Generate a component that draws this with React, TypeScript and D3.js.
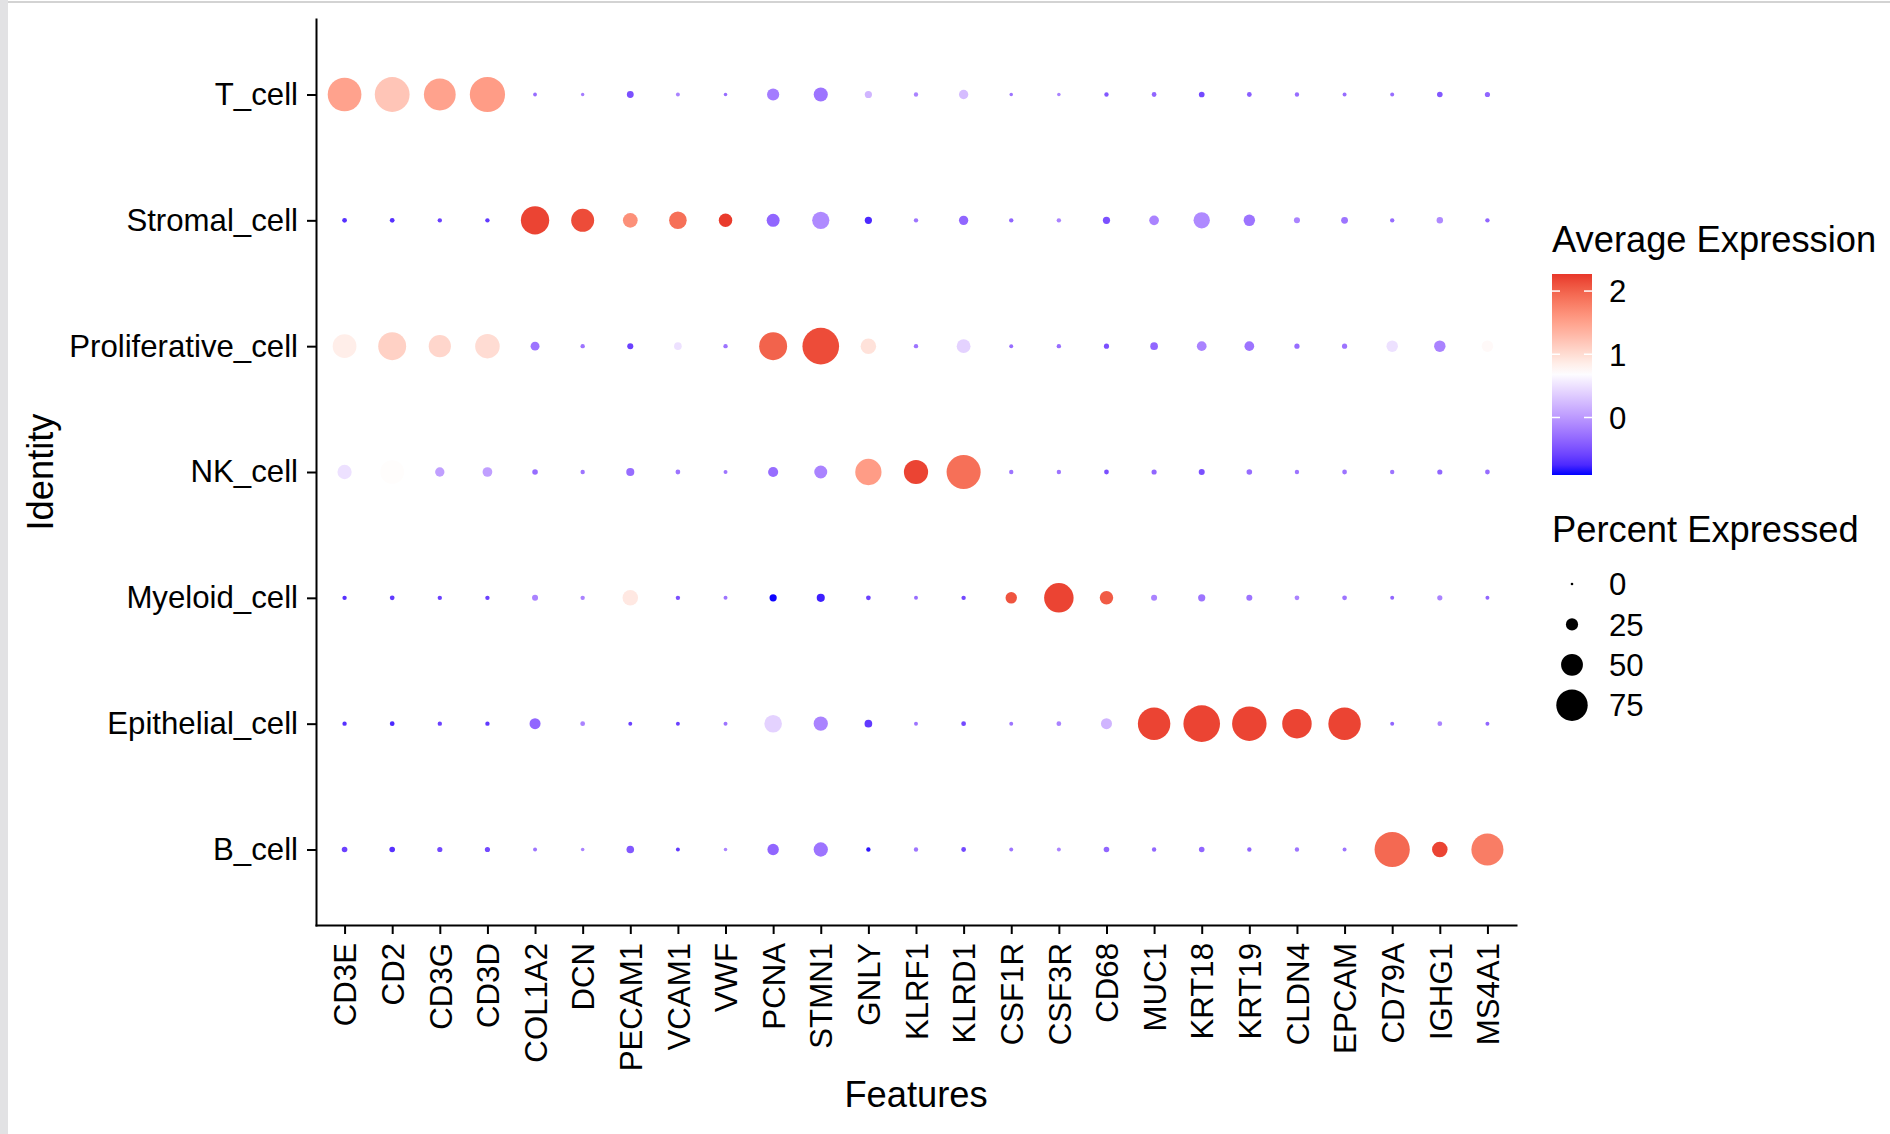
import React, { useEffect, useRef } from 'react';
import * as d3 from 'd3';

// genes on the x axis, in plot order
const features = [
  'CD3E', 'CD2', 'CD3G', 'CD3D', 'COL1A2', 'DCN', 'PECAM1', 'VCAM1', 'VWF',
  'PCNA', 'STMN1', 'GNLY', 'KLRF1', 'KLRD1', 'CSF1R', 'CSF3R', 'CD68', 'MUC1',
  'KRT18', 'KRT19', 'CLDN4', 'EPCAM', 'CD79A', 'IGHG1', 'MS4A1'
];

// cell identities, top to bottom
const identities = [
  'T_cell', 'Stromal_cell', 'Proliferative_cell', 'NK_cell',
  'Myeloid_cell', 'Epithelial_cell', 'B_cell'
];

// percent expressed per identity (same order as features)
const pctTcell = [81, 84, 76, 85, 3, 2, 11, 3.5, 2.4, 25, 30, 12, 4.6, 17.5, 2.4, 2.4, 4.6, 5.6, 8, 5.6, 4.6, 3.5, 3.5, 7.8, 6.7];
const pctStromal = [5.6, 5.6, 4.6, 4.6, 67, 53, 31.5, 39, 28.3, 27, 38, 12, 4.6, 17.5, 4.6, 4.6, 12, 18.6, 35.8, 23, 9, 11, 4.6, 10, 4.6];
const pctProlif = [55, 66, 51, 57, 16.4, 4.6, 9, 13, 4.6, 66, 88.6, 33.6, 4.6, 29.3, 3.5, 4.6, 6.7, 13.2, 18.6, 18.6, 6.7, 6.7, 23, 23, 23];
const pctNK = [30.4, 55, 17.5, 18.6, 7.8, 4.6, 14.3, 5.6, 3.5, 19.6, 27, 61.6, 56.3, 82, 4.6, 4.6, 5.6, 6.7, 8.9, 7.8, 4.6, 5.6, 4.6, 6.7, 5.6];
const pctMyeloid = [4.6, 5.6, 4.6, 4.6, 8.9, 4.6, 33.6, 4.6, 3.5, 12, 14.3, 5.6, 3.5, 4.6, 23, 70, 28.3, 8.9, 12, 8.9, 5.6, 5.6, 3.5, 6.7, 3.5];
const pctEpithelial = [4.6, 5.6, 4.6, 4.6, 22, 5.6, 3.5, 3.5, 3.5, 39, 30.4, 13.2, 3.5, 5.6, 3.5, 5.6, 22, 77.8, 88.6, 83, 70, 77.8, 3.5, 5.6, 3.5];
const pctBcell = [7.8, 7.8, 6.7, 6.7, 3.5, 2.4, 13, 3.5, 2.4, 23, 30.4, 4.6, 4.6, 5.6, 3.5, 3.5, 7.8, 4.6, 7.8, 4.6, 4.6, 3.5, 85, 33.6, 76.7];

// average (scaled) expression per identity
const avgTcell = [1.5, 1.2, 1.5, 1.55, -0.3, -0.2, -0.5, -0.15, -0.3, -0.2, -0.25, 0.2, -0.15, 0.25, -0.25, -0.15, -0.45, -0.35, -0.55, -0.4, -0.3, -0.3, -0.3, -0.45, -0.35];
const avgStromal = [-0.7, -0.7, -0.6, -0.65, 2.2, 2.15, 1.65, 1.9, 2.25, -0.35, -0.1, -0.75, -0.25, -0.35, -0.35, -0.15, -0.5, -0.15, -0.1, -0.25, -0.15, -0.25, -0.3, -0.1, -0.35];
const avgProlif = [0.85, 1.1, 1.05, 1.0, -0.25, -0.25, -0.6, 0.5, -0.25, 2.0, 2.15, 0.95, -0.25, 0.4, -0.3, -0.3, -0.5, -0.35, -0.15, -0.25, -0.3, -0.25, 0.5, -0.15, 0.75];
const avgNK = [0.5, 0.72, 0.05, 0.05, -0.3, -0.25, -0.3, -0.25, -0.25, -0.3, -0.15, 1.55, 2.2, 1.9, -0.25, -0.25, -0.5, -0.35, -0.5, -0.3, -0.25, -0.25, -0.25, -0.35, -0.3];
const avgMyeloid = [-0.7, -0.65, -0.6, -0.6, -0.15, -0.15, 0.9, -0.5, -0.25, -0.9, -0.8, -0.6, -0.3, -0.55, 2.1, 2.2, 2.05, -0.15, -0.25, -0.25, -0.15, -0.25, -0.35, -0.15, -0.35];
const avgEpithelial = [-0.7, -0.75, -0.6, -0.65, -0.35, -0.15, -0.6, -0.6, -0.25, 0.4, -0.15, -0.65, -0.25, -0.55, -0.25, -0.15, 0.2, 2.2, 2.2, 2.2, 2.2, 2.2, -0.35, -0.15, -0.35];
const avgBcell = [-0.6, -0.7, -0.55, -0.55, -0.25, -0.15, -0.45, -0.65, -0.15, -0.35, -0.25, -0.85, -0.25, -0.55, -0.25, -0.15, -0.35, -0.35, -0.35, -0.35, -0.25, -0.25, 1.95, 2.2, 1.8];

const pctExpressed = [pctTcell, pctStromal, pctProlif, pctNK, pctMyeloid, pctEpithelial, pctBcell];
const avgExpression = [avgTcell, avgStromal, avgProlif, avgNK, avgMyeloid, avgEpithelial, avgBcell];

// legend ranges / breaks
const avgRange = [-0.91, 2.27];
const colorTicks = [0, 1, 2];
const sizeBreaks = [0, 25, 50, 75];

const FONT = "'Liberation Sans', Arial, Helvetica, sans-serif";
const TEXT_SIZE = 31.2;
const TITLE_SIZE = 36.3;

const DotPlot: React.FC = () => {
  const svgRef = useRef<SVGSVGElement>(null);

  useEffect(() => {
    if (!svgRef.current) return;

    const width = 1890;
    const height = 1134;
    const plot = { left: 316, right: 1516, top: 19, bottom: 925 };

    const svg = d3.select(svgRef.current);
    svg.selectAll('*').remove();
    svg.attr('width', width).attr('height', height);

    svg.append('rect')
      .attr('width', width)
      .attr('height', height)
      .attr('fill', '#ffffff');

    // screenshot window edges
    svg.append('rect')
      .attr('x', 0).attr('y', 0)
      .attr('width', 8).attr('height', height)
      .attr('fill', '#e2e2e4');
    svg.append('rect')
      .attr('x', 8).attr('y', 1)
      .attr('width', width - 8).attr('height', 2)
      .attr('fill', '#d3d3d3');

    // scales
    const x = d3.scalePoint<string>()
      .domain(features)
      .range([plot.left, plot.right])
      .padding(0.6);

    const y = d3.scalePoint<string>()
      .domain(identities)
      .range([plot.top, plot.bottom])
      .padding(0.6);

    const mid = 0.7;
    const color = d3.scaleLinear<string>()
      .domain([avgRange[0], mid, avgRange[1]])
      .range(['#0000ff', '#ffffff', '#e8372a'])
      .interpolate(d3.interpolateLab)
      .clamp(true);

    const radius = d3.scaleLinear()
      .domain([0, 100])
      .range([1.3, 20.5]);

    // dots
    const cells = identities.flatMap((id, i) =>
      features.map((f, j) => ({
        id,
        f,
        pct: pctExpressed[i][j],
        avg: avgExpression[i][j]
      }))
    );

    svg.append('g')
      .selectAll('circle')
      .data(cells)
      .enter()
      .append('circle')
      .attr('cx', d => x(d.f) as number)
      .attr('cy', d => y(d.id) as number)
      .attr('r', d => radius(d.pct))
      .attr('fill', d => color(d.avg));

    // y axis
    const yAxis = svg.append('g')
      .attr('transform', `translate(${plot.left},0)`)
      .call(d3.axisLeft(y).tickSize(9).tickSizeOuter(0).tickPadding(9));

    // x axis
    const xAxis = svg.append('g')
      .attr('transform', `translate(0,${plot.bottom})`)
      .call(d3.axisBottom(x).tickSize(9).tickSizeOuter(0));

    [xAxis, yAxis].forEach(ax => {
      ax.select('.domain')
        .attr('stroke', '#000')
        .attr('stroke-width', 2)
        .attr('stroke-linecap', 'square');
      ax.selectAll('.tick line')
        .attr('stroke', '#000')
        .attr('stroke-width', 2);
      ax.selectAll('.tick text')
        .attr('font-family', FONT)
        .attr('font-size', TEXT_SIZE)
        .attr('fill', '#000');
    });

    xAxis.selectAll('.tick text')
      .attr('transform', 'rotate(-90)')
      .attr('text-anchor', 'end')
      .attr('x', -18)
      .attr('y', 0)
      .attr('dy', '0.36em');

    // axis titles
    svg.append('text')
      .attr('x', (plot.left + plot.right) / 2)
      .attr('y', 1107)
      .attr('text-anchor', 'middle')
      .attr('font-family', FONT)
      .attr('font-size', TITLE_SIZE)
      .text('Features');

    svg.append('text')
      .attr('transform', `translate(53,${(plot.top + plot.bottom) / 2}) rotate(-90)`)
      .attr('text-anchor', 'middle')
      .attr('font-family', FONT)
      .attr('font-size', TITLE_SIZE)
      .text('Identity');

    // colour legend
    const lgX = 1552;
    const barW = 40;
    const barTop = 274;
    const barBottom = 475;

    svg.append('text')
      .attr('x', lgX)
      .attr('y', 252)
      .attr('font-family', FONT)
      .attr('font-size', TITLE_SIZE)
      .text('Average Expression');

    const defs = svg.append('defs');
    const gradient = defs.append('linearGradient')
      .attr('id', 'avg-gradient')
      .attr('x1', '0%').attr('y1', '100%')
      .attr('x2', '0%').attr('y2', '0%');

    gradient.selectAll('stop')
      .data(d3.range(0, 1.0001, 0.05))
      .enter()
      .append('stop')
      .attr('offset', d => `${d * 100}%`)
      .attr('stop-color', d => color(avgRange[0] + d * (avgRange[1] - avgRange[0])));

    svg.append('rect')
      .attr('x', lgX)
      .attr('y', barTop)
      .attr('width', barW)
      .attr('height', barBottom - barTop)
      .attr('fill', 'url(#avg-gradient)');

    const barScale = d3.scaleLinear()
      .domain(avgRange)
      .range([barBottom, barTop]);

    const cTicks = svg.append('g')
      .selectAll('g')
      .data(colorTicks)
      .enter()
      .append('g')
      .attr('transform', d => `translate(0,${barScale(d)})`);

    cTicks.append('line')
      .attr('x1', lgX).attr('x2', lgX + barW / 5)
      .attr('stroke', '#fff').attr('stroke-width', 1.5);
    cTicks.append('line')
      .attr('x1', lgX + barW - barW / 5).attr('x2', lgX + barW)
      .attr('stroke', '#fff').attr('stroke-width', 1.5);
    cTicks.append('text')
      .attr('x', 1609)
      .attr('dy', '0.36em')
      .attr('font-family', FONT)
      .attr('font-size', TEXT_SIZE)
      .text(d => d);

    // size legend
    svg.append('text')
      .attr('x', lgX)
      .attr('y', 542)
      .attr('font-family', FONT)
      .attr('font-size', TITLE_SIZE)
      .text('Percent Expressed');

    const sKeys = svg.append('g')
      .selectAll('g')
      .data(sizeBreaks)
      .enter()
      .append('g')
      .attr('transform', (d, i) => `translate(0,${584 + i * 40.4})`);

    sKeys.append('circle')
      .attr('cx', lgX + barW / 2)
      .attr('cy', 0)
      .attr('r', d => radius(d))
      .attr('fill', '#000');

    sKeys.append('text')
      .attr('x', 1609)
      .attr('dy', '0.36em')
      .attr('font-family', FONT)
      .attr('font-size', TEXT_SIZE)
      .text(d => d);
  }, []);

  return (
    <div style={{ position: 'absolute', left: 0, top: 0, background: '#fff' }}>
      <svg ref={svgRef} style={{ display: 'block' }} />
    </div>
  );
};

export default function App() {
  return <DotPlot />;
}
